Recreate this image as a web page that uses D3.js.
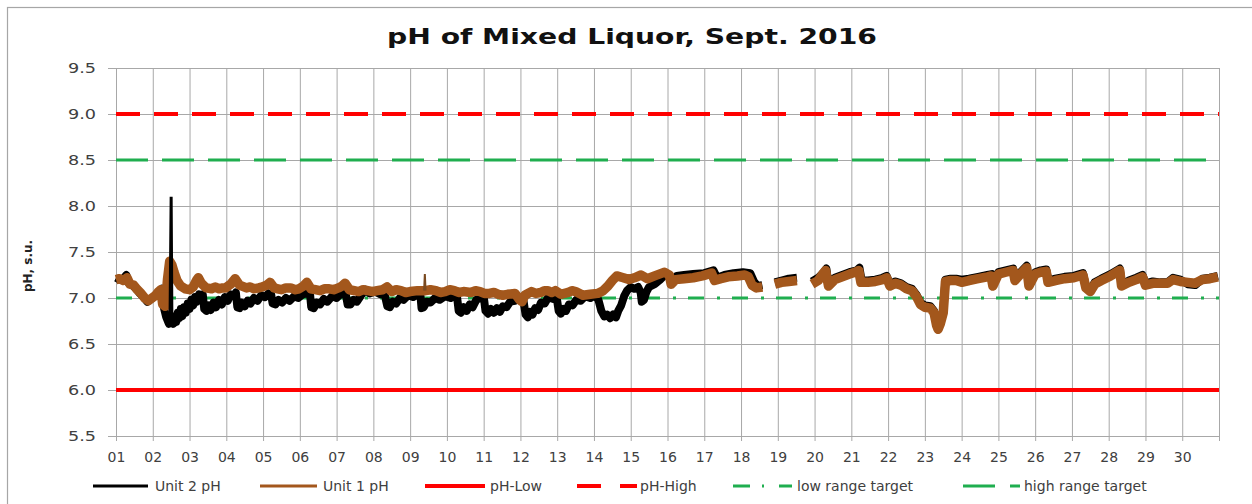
<!DOCTYPE html>
<html>
<head>
<meta charset="utf-8">
<script src="https://cdn.jsdelivr.net/npm/d3@7"></script>
<style>
  html, body { margin: 0; padding: 0; background: #fff; }
  svg { display: block; }
  text { font-family: "DejaVu Sans", Verdana, sans-serif; }
</style>
</head>
<body>
<svg id="chart" width="1252" height="504"></svg>
<script>
// ---------- DATA ----------
const title = "pH of Mixed Liquor, Sept. 2016";
const yLabel = "pH, s.u.";
const dayTicks = [1,2,3,4,5,6,7,8,9,10,11,12,13,14,15,16,17,18,19,20,21,22,23,24,25,26,27,28,29,30];
const yTicks = [5.5, 6.0, 6.5, 7.0, 7.5, 8.0, 8.5, 9.0, 9.5];

// Unit 2 pH : [day of month (fractional), pH]; null = no data
const unit2 = [
  [1.00,7.22],[1.10,7.20],[1.20,7.21],[1.28,7.25],[1.35,7.16],[1.45,7.14],[1.55,7.10],[1.65,7.05],[1.75,7.01],[1.85,6.96],[1.95,6.99],[2.05,7.02],[2.15,7.06],[2.25,7.10],
  [2.30,6.90],[2.36,6.80],[2.42,6.74],[2.44,6.72],[2.47,6.80],[2.50,8.10],[2.52,6.76],[2.56,6.72],[2.60,6.80],[2.64,6.74],[2.68,6.84],[2.72,6.78],[2.76,6.88],[2.80,6.80],
  [2.85,6.90],[2.90,6.84],[2.95,6.94],[3.00,6.88],[3.05,6.98],[3.10,6.92],[3.15,7.01],[3.20,6.96],[3.26,7.04],[3.32,7.00],[3.36,7.04],[3.40,6.88],[3.46,6.86],[3.52,6.92],
  [3.58,6.87],[3.65,6.95],[3.72,6.90],[3.80,6.98],[3.88,6.93],[3.96,7.01],[4.04,6.97],[4.12,7.04],[4.20,7.02],[4.26,7.06],[4.30,6.90],[4.36,6.89],[4.42,6.95],[4.50,6.91],
  [4.58,6.97],[4.66,6.94],[4.75,7.00],[4.85,6.97],[4.95,7.03],[5.05,7.01],[5.15,7.05],[5.22,7.04],[5.26,6.94],[5.34,6.93],[5.42,6.98],[5.52,6.95],[5.62,7.00],[5.72,6.97],
  [5.85,7.02],[5.95,7.00],[6.08,7.04],[6.20,7.05],[6.28,7.03],[6.31,6.90],[6.38,6.89],[6.46,6.95],[6.55,6.93],[6.65,6.99],[6.75,6.96],[6.88,7.02],[7.00,7.00],[7.12,7.05],
  [7.24,7.06],[7.30,6.93],[7.38,6.93],[7.46,6.98],[7.55,6.96],[7.65,7.02],[7.78,7.09],[7.90,7.05],[8.05,7.07],[8.20,7.04],[8.30,7.05],[8.38,6.91],[8.45,6.90],[8.53,6.96],
  [8.62,6.94],[8.72,7.00],[8.82,6.98],[8.95,7.03],[9.08,7.01],[9.20,7.04],[9.28,7.03],[9.31,6.89],[9.37,6.90],[9.45,6.96],[9.55,6.95],[9.68,7.00],[9.80,6.98],[9.95,7.02],
  [10.10,7.00],[10.22,7.03],[10.28,7.00],[10.32,6.86],[10.38,6.84],[10.46,6.90],[10.54,6.86],[10.62,6.93],[10.70,6.90],[10.80,6.98],[10.90,7.00],[11.00,7.02],[11.05,6.86],
  [11.12,6.83],[11.20,6.88],[11.28,6.84],[11.36,6.89],[11.44,6.85],[11.52,6.91],[11.62,6.90],[11.72,6.96],[11.85,6.97],[11.98,7.01],[12.08,6.98],[12.14,6.82],[12.20,6.79],
  [12.26,6.85],[12.33,6.82],[12.40,6.89],[12.48,6.87],[12.56,6.95],[12.66,6.94],[12.76,7.01],[12.88,6.99],[12.98,7.02],[13.04,6.86],[13.10,6.83],[13.17,6.88],[13.24,6.86],
  [13.32,6.93],[13.42,6.92],[13.52,6.98],[13.64,6.97],[13.76,7.02],[13.90,7.00],[14.02,7.03],[14.12,6.98],[14.20,6.86],[14.28,6.80],[14.36,6.82],[14.44,6.78],[14.52,6.82],
  [14.60,6.79],[14.66,6.86],[14.74,6.92],[14.82,7.02],[14.90,7.08],[15.00,7.12],[15.10,7.10],[15.20,7.12],[15.27,7.06],[15.30,6.96],[15.36,6.98],[15.42,7.06],[15.50,7.12],
  [15.65,7.15],[15.80,7.20],[15.95,7.26],[16.05,7.25],[16.10,7.15],
  [16.25,7.24],[16.45,7.25],[16.70,7.26],[17.00,7.27],[17.25,7.30],[17.35,7.22],[17.55,7.25],[17.80,7.27],[18.05,7.28],[18.25,7.27],[18.35,7.18],[18.45,7.13],[18.58,7.14],
  [18.60,null],
  [18.92,7.17],[19.10,7.19],[19.30,7.21],[19.52,7.22],
  [19.55,null],
  [19.93,7.18],[20.10,7.22],[20.25,7.28],[20.32,7.32],[20.38,7.15],[20.55,7.22],[20.75,7.25],[20.95,7.28],[21.15,7.30],[21.22,7.33],[21.28,7.19],[21.45,7.19],[21.65,7.20],
  [21.85,7.22],[21.96,7.24],[22.05,7.15],[22.20,7.18],[22.35,7.16],[22.50,7.12],[22.65,7.10],[22.78,7.03],[22.88,6.95],[23.00,6.92],[23.15,6.91],[23.25,6.86],[23.32,6.72],
  [23.36,6.68],[23.42,6.74],[23.50,6.86],[23.56,7.20],[23.70,7.21],[23.85,7.21],[24.00,7.20],[24.20,7.21],[24.45,7.23],[24.70,7.25],[24.82,7.26],[24.86,7.15],[25.00,7.28],
  [25.20,7.30],[25.40,7.32],[25.46,7.21],[25.60,7.28],[25.77,7.35],[25.83,7.15],[26.00,7.28],[26.15,7.30],[26.30,7.31],[26.36,7.19],[26.55,7.21],[26.80,7.23],[27.05,7.24],
  [27.30,7.27],[27.38,7.13],[27.50,7.09],[27.62,7.17],[27.80,7.21],[28.05,7.26],[28.30,7.32],[28.36,7.15],[28.55,7.19],[28.75,7.22],[28.92,7.25],[29.00,7.16],[29.20,7.18],
  [29.40,7.17],[29.60,7.17],[29.75,7.22],[29.95,7.20],[30.15,7.15],[30.35,7.14],[30.55,7.21],[30.75,7.22],[30.97,7.24]
];

// Unit 1 pH
const unit1 = [
  [1.00,7.20],[1.10,7.21],[1.20,7.19],[1.30,7.22],[1.38,7.15],[1.48,7.14],[1.58,7.09],[1.68,7.05],[1.78,7.00],[1.88,6.97],[1.98,7.00],[2.08,7.03],[2.16,7.07],[2.22,7.09],
  [2.27,6.93],[2.34,6.91],[2.40,7.20],[2.46,7.40],[2.52,7.36],[2.58,7.28],[2.66,7.19],[2.76,7.13],[2.88,7.10],[3.00,7.09],[3.10,7.12],[3.20,7.20],[3.24,7.22],[3.32,7.16],
  [3.45,7.11],[3.60,7.10],[3.70,7.12],[3.80,7.10],[3.90,7.11],[3.98,7.11],[4.12,7.15],[4.24,7.21],[4.36,7.14],[4.55,7.11],[4.65,7.12],[4.75,7.10],[4.88,7.11],[4.98,7.12],
  [5.10,7.14],[5.19,7.17],[5.30,7.11],[5.40,7.10],[5.50,7.09],[5.62,7.11],[5.75,7.11],[5.88,7.09],[5.98,7.10],[6.10,7.13],[6.19,7.17],[6.30,7.10],[6.42,7.09],[6.55,7.08],
  [6.68,7.10],[6.80,7.10],[6.92,7.09],[7.05,7.11],[7.15,7.13],[7.23,7.16],[7.35,7.09],[7.48,7.08],[7.60,7.07],[7.72,7.09],[7.85,7.08],[7.98,7.07],[8.10,7.08],
  [8.25,7.09],[8.37,7.12],[8.50,7.07],[8.62,7.09],[8.75,7.08],[8.88,7.06],[9.00,7.07],[9.20,7.08],[9.38,7.08],[9.40,7.26],[9.42,7.08],[9.55,7.09],[9.70,7.08],[9.82,7.06],
  [9.95,7.07],[10.08,7.09],[10.20,7.08],[10.32,7.06],[10.45,7.07],[10.65,7.06],[10.78,7.08],[10.90,7.07],[11.02,7.05],[11.15,7.05],[11.28,7.06],[11.40,7.04],[11.52,7.03],
  [11.65,7.04],[11.85,7.05],[11.98,6.98],[12.04,6.96],[12.12,7.03],[12.30,7.07],[12.42,7.05],[12.55,7.06],[12.65,7.08],[12.75,7.08],[12.85,7.06],[12.95,7.08],[13.10,7.04],
  [13.30,7.06],[13.40,7.08],[13.50,7.07],[13.70,7.03],[13.90,7.04],[14.10,7.05],[14.25,7.08],[14.38,7.13],[14.50,7.19],[14.62,7.24],[14.80,7.22],[14.95,7.20],[15.10,7.22],
  [15.28,7.25],[15.45,7.21],[15.65,7.24],[15.85,7.27],[15.92,7.28],[16.05,7.25],[16.10,7.15],[16.22,7.20],[16.45,7.21],[16.70,7.22],[16.95,7.24],[17.20,7.27],[17.28,7.19],
  [17.45,7.21],[17.65,7.23],[17.90,7.24],[18.10,7.25],[18.20,7.23],[18.30,7.14],[18.42,7.11],[18.58,7.12],
  [18.60,null],
  [18.92,7.15],[19.10,7.17],[19.30,7.18],[19.52,7.19],
  [19.55,null],
  [19.93,7.15],[20.10,7.19],[20.22,7.26],[20.30,7.30],[20.38,7.13],[20.55,7.20],[20.75,7.23],[20.95,7.26],[21.10,7.28],[21.20,7.30],[21.26,7.17],[21.45,7.17],[21.65,7.18],
  [21.85,7.20],[21.96,7.22],[22.05,7.13],[22.20,7.16],[22.35,7.14],[22.50,7.10],[22.65,7.08],[22.78,7.01],[22.88,6.93],[23.00,6.90],[23.15,6.89],[23.25,6.84],[23.32,6.70],
  [23.36,6.66],[23.42,6.72],[23.50,6.84],[23.56,7.18],[23.70,7.19],[23.85,7.19],[24.00,7.17],[24.20,7.19],[24.45,7.21],[24.70,7.23],[24.80,7.24],[24.85,7.13],[25.00,7.26],
  [25.20,7.28],[25.40,7.30],[25.45,7.19],[25.60,7.26],[25.77,7.33],[25.83,7.13],[26.00,7.26],[26.15,7.28],[26.30,7.29],[26.35,7.17],[26.55,7.19],[26.80,7.21],[27.05,7.22],
  [27.30,7.25],[27.38,7.11],[27.50,7.07],[27.62,7.15],[27.80,7.19],[28.05,7.24],[28.30,7.30],[28.35,7.13],[28.55,7.17],[28.75,7.20],[28.92,7.23],[29.00,7.14],[29.20,7.16],
  [29.40,7.16],[29.60,7.16],[29.75,7.20],[29.95,7.18],[30.15,7.17],[30.35,7.16],[30.55,7.20],[30.75,7.21],[30.97,7.23]
];

const phLow = 6.0;
const phHigh = 9.0;
const lowTarget = 7.0;
const highTarget = 8.5;

// ---------- DRAW ----------
const svg = d3.select("#chart");
const m = {left: 116, right: 1219, top: 68, bottom: 436};

const x = d3.scaleLinear().domain([1, 31]).range([m.left, m.right]);
const y = d3.scaleLinear().domain([5.5, 9.5]).range([m.bottom, m.top]);

// outer border
svg.append("rect").attr("x", 7.5).attr("y", 7.5).attr("width", 1270).attr("height", 520)
  .attr("fill", "#fff").attr("stroke", "#a6a6a6").attr("stroke-width", 1.2);

// title
svg.append("text").attr("x", 632).attr("y", 44).attr("text-anchor", "middle")
  .attr("font-size", 22).attr("font-weight", "bold").attr("fill", "#111")
  .attr("textLength", 490).attr("lengthAdjust", "spacingAndGlyphs")
  .text(title);

const gridColor = "#a8a8a8";

// y ticks and labels
const gy = svg.append("g").attr("transform", `translate(${m.left},0)`)
  .call(d3.axisLeft(y).tickValues(yTicks).tickFormat(d3.format(".1f")).tickSize(8).tickPadding(12));
gy.select(".domain").remove();
gy.selectAll(".tick line").attr("stroke", gridColor);
gy.selectAll(".tick text").attr("font-size", 14).attr("fill", "#404040")
  .attr("textLength", 28).attr("lengthAdjust", "spacingAndGlyphs");

// horizontal grid
const gyGrid = svg.append("g").attr("transform", `translate(${m.left},0)`)
  .call(d3.axisLeft(y).tickValues(yTicks).tickSize(-(m.right - m.left)).tickFormat(""));
gyGrid.select(".domain").remove();
gyGrid.selectAll(".tick line").attr("stroke", gridColor);

// vertical grid
const xGridVals = dayTicks.concat([31]);
const gxGrid = svg.append("g").attr("transform", `translate(0,${m.bottom})`)
  .call(d3.axisBottom(x).tickValues(xGridVals).tickSize(-(m.bottom - m.top)).tickFormat(""));
gxGrid.select(".domain").remove();
gxGrid.selectAll(".tick line").attr("stroke", gridColor);

// x ticks and labels
const gx = svg.append("g").attr("transform", `translate(0,${m.bottom})`)
  .call(d3.axisBottom(x).tickValues(xGridVals).tickSize(5).tickPadding(8)
    .tickFormat(d => d === 31 ? "" : d3.format("02d")(d)));
gx.select(".domain").remove();
gx.selectAll(".tick line").attr("stroke", gridColor);
gx.selectAll(".tick text").attr("font-size", 14).attr("fill", "#404040").attr("dy", "0.9em");

// y label
svg.append("text").attr("transform", `translate(32,266) rotate(-90)`)
  .attr("text-anchor", "middle").attr("font-size", 12).attr("font-weight", "bold")
  .attr("fill", "#222").text(yLabel);

// reference lines
const RED = "#ff0000", GREEN = "#1fae4f", BROWN = "#a3571c";
const refs = [
  {v: phLow, color: RED, w: 4, dash: null},
  {v: phHigh, color: RED, w: 4, dash: "24,14"},
  {v: highTarget, color: GREEN, w: 3, dash: "32,14"},
  {v: lowTarget, color: GREEN, w: 3, dash: "16,13,3,12"}
];
refs.forEach(r => {
  svg.append("line").attr("x1", x(1)).attr("x2", x(31))
    .attr("y1", y(r.v)).attr("y2", y(r.v))
    .attr("stroke", r.color).attr("stroke-width", r.w)
    .attr("stroke-dasharray", r.dash);
});

// series: thick noisy band, plus thin strokes for isolated spikes
const isSpike = (arr, i) => {
  const p = arr[i], a = arr[i - 1], b = arr[i + 1];
  if (!a || !b || p[1] === null || a[1] === null || b[1] === null) return false;
  return p[1] - a[1] > 0.15 && p[1] - b[1] > 0.15;
};
const line = d3.line().defined(d => d[1] !== null).x(d => x(d[0])).y(d => y(d[1]));
function thick(arr, color, w) {
  const band = arr.filter((d, i) => !isSpike(arr, i));
  svg.append("path").datum(band).attr("d", line).attr("fill", "none")
    .attr("stroke", color).attr("stroke-width", w).attr("stroke-linejoin", "round");
}
function spikes(arr, color, w) {
  arr.forEach((d, i) => {
    if (isSpike(arr, i)) {
      svg.append("path").datum([arr[i - 1], d, arr[i + 1]]).attr("d", line).attr("fill", "none")
        .attr("stroke", color).attr("stroke-width", w);
    }
  });
}
thick(unit2, "#000", 8);
thick(unit1, BROWN, 9.5);
spikes(unit2, "#000", 3);
spikes(unit1, "#7a4a20", 2);

// legend
const legY = 486;
const legend = [
  {label: "Unit 2 pH", x1: 93, x2: 148, tx: 155, color: "#000", w: 3, dash: null},
  {label: "Unit 1 pH", x1: 260, x2: 317, tx: 323, color: BROWN, w: 3, dash: null},
  {label: "pH-Low", x1: 425, x2: 485, tx: 490, color: RED, w: 4, dash: null},
  {label: "pH-High", x1: 577, x2: 637, tx: 640, color: RED, w: 4, dash: "24,19"},
  {label: "low range target", x1: 733, x2: 792, tx: 797, color: GREEN, w: 3, dash: "17,12,2,15"},
  {label: "high range target", x1: 963, x2: 1020, tx: 1024, color: GREEN, w: 3, dash: "32,15"}
];
legend.forEach(l => {
  svg.append("line").attr("x1", l.x1).attr("x2", l.x2).attr("y1", legY).attr("y2", legY)
    .attr("stroke", l.color).attr("stroke-width", l.w).attr("stroke-dasharray", l.dash);
  svg.append("text").attr("x", l.tx).attr("y", legY).attr("dy", "0.35em")
    .attr("font-size", 14).attr("fill", "#404040").text(l.label);
});
</script>
</body>
</html>
